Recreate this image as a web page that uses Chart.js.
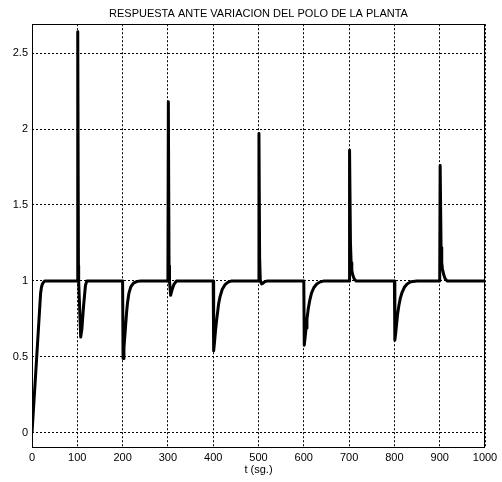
<!DOCTYPE html>
<html>
<head>
<meta charset="utf-8">
<title>Respuesta ante variacion del polo de la planta</title>
<script src="https://cdn.jsdelivr.net/npm/chart.js@4.4.0/dist/chart.umd.min.js"></script>
<style>
    body { margin: 0; background: #fff; }
    canvas { display: block; }
</style>
</head>
<body>
<canvas id="grafico-respuesta" width="502" height="482"></canvas>
<script>
// tiempo de simulacion (sg.), un renglon por cada cambio del polo
const tiempo = [
    0, 10, 19, 21, 23, 25, 28,
    100, 101, 102.5, 103, 107.5, 110, 114, 118, 121,
    200, 201, 203, 205, 207, 209, 211, 214, 218, 224, 232, 240,
    300, 301, 302.5, 303.5, 306, 309, 313, 319,
    400, 401, 403, 405, 407.5, 410, 412, 415, 420, 426, 433, 441,
    500, 501, 502.5, 504, 507, 510, 514, 520,
    600, 601, 603, 605, 607, 610, 613, 617, 622, 628, 635, 645,
    700, 701, 703, 704.5, 706, 708, 711, 715,
    800, 801, 803, 805, 807, 810, 813, 817, 822, 828, 836, 850,
    900, 901, 903, 904.5, 906, 909, 912, 916,
    1000
];

// salida de la planta
const salida = [
    0, 0.48, 0.92, 0.96, 0.98, 0.99, 1.0,
    1.0, 2.64, 1.1, 1.0, 0.63, 0.68, 0.84, 0.97, 1.0,
    1.0, 0.49, 0.56, 0.64, 0.72, 0.8, 0.86, 0.92, 0.96, 0.985, 0.997, 1.0,
    1.0, 2.18, 1.1, 1.0, 0.905, 0.94, 0.975, 1.0,
    1.0, 0.54, 0.6, 0.67, 0.74, 0.8, 0.85, 0.895, 0.945, 0.975, 0.992, 1.0,
    1.0, 1.97, 1.15, 1.0, 0.98, 0.985, 0.995, 1.0,
    1.0, 0.577, 0.63, 0.69, 0.75, 0.82, 0.87, 0.92, 0.955, 0.978, 0.992, 1.0,
    1.0, 1.86, 1.25, 1.12, 1.07, 1.04, 1.015, 1.0,
    1.0, 0.61, 0.66, 0.72, 0.78, 0.84, 0.885, 0.925, 0.958, 0.98, 0.994, 1.0,
    1.0, 1.76, 1.22, 1.12, 1.08, 1.04, 1.015, 1.0,
    1.0
];

const ticksX = [0, 100, 200, 300, 400, 500, 600, 700, 800, 900, 1000];
const ticksY = [0, 0.5, 1, 1.5, 2, 2.5];

const tituloGrafico = 'RESPUESTA ANTE VARIACION DEL POLO DE LA PLANTA';
const tituloEjeX = 't (sg.)';

const FUENTE = "'Liberation Sans', Arial, Helvetica, sans-serif";

const puntos = tiempo.map(function (t, i) {
    return { x: t, y: salida[i] };
});

// marco negro alrededor de los ejes
const marco = {
    id: 'marco',
    afterDraw: function (chart) {
        const a = chart.chartArea;
        const ctx = chart.ctx;
        const x0 = Math.round(a.left) + 0.5;
        const x1 = Math.round(a.right) - 0.5;
        const y0 = Math.round(a.top) + 0.5;
        const y1 = Math.round(a.bottom) - 0.5;
        ctx.save();
        ctx.strokeStyle = '#000';
        ctx.lineWidth = 1;
        ctx.strokeRect(x0, y0, x1 - x0, y1 - y0);
        ctx.restore();
    }
};

const data = {
    datasets: [{
        label: 'salida',
        data: puntos,
        borderColor: '#000',
        backgroundColor: '#000',
        borderWidth: 3,
        borderJoinStyle: 'round',
        pointRadius: 0,
        tension: 0,
        fill: false
    }]
};

const config = {
    type: 'line',
    data: data,
    plugins: [marco],
    options: {
        responsive: false,
        animation: false,
        events: [],
        layout: {
            padding: { left: 0, right: 17, top: 0, bottom: 0 }
        },
        plugins: {
            legend: { display: false },
            tooltip: { enabled: false },
            title: {
                display: true,
                text: tituloGrafico,
                fullSize: false,
                color: '#000',
                font: { family: FUENTE, size: 11, weight: 'normal' },
                padding: { top: 7, bottom: 4 }
            }
        },
        scales: {
            x: {
                type: 'linear',
                min: 0,
                max: 1000,
                afterBuildTicks: function (eje) {
                    eje.ticks = ticksX.map(function (v) { return { value: v }; });
                },
                afterFit: function (eje) {
                    eje.height = 34;
                },
                ticks: {
                    autoSkip: false,
                    maxRotation: 0,
                    padding: 3,
                    color: '#000',
                    font: { family: FUENTE, size: 11 },
                    callback: function (v) { return String(v); }
                },
                grid: {
                    color: '#000',
                    lineWidth: 1,
                    drawTicks: false
                },
                border: { display: false, dash: [2, 2] },
                title: {
                    display: true,
                    text: tituloEjeX,
                    color: '#000',
                    font: { family: FUENTE, size: 11 },
                    padding: { top: 0, bottom: 5 }
                }
            },
            y: {
                type: 'linear',
                min: -0.1,
                max: 2.69,
                afterBuildTicks: function (eje) {
                    eje.ticks = ticksY.map(function (v) { return { value: v }; });
                },
                afterFit: function (eje) {
                    eje.width = 32;
                },
                ticks: {
                    padding: 4,
                    color: '#000',
                    font: { family: FUENTE, size: 11 },
                    callback: function (v) { return String(v); }
                },
                grid: {
                    color: '#000',
                    lineWidth: 1,
                    drawTicks: false
                },
                border: { display: false, dash: [2, 2] }
            }
        }
    }
};

const grafico = new Chart(
    document.getElementById('grafico-respuesta'),
    config
);
</script>
</body>
</html>
